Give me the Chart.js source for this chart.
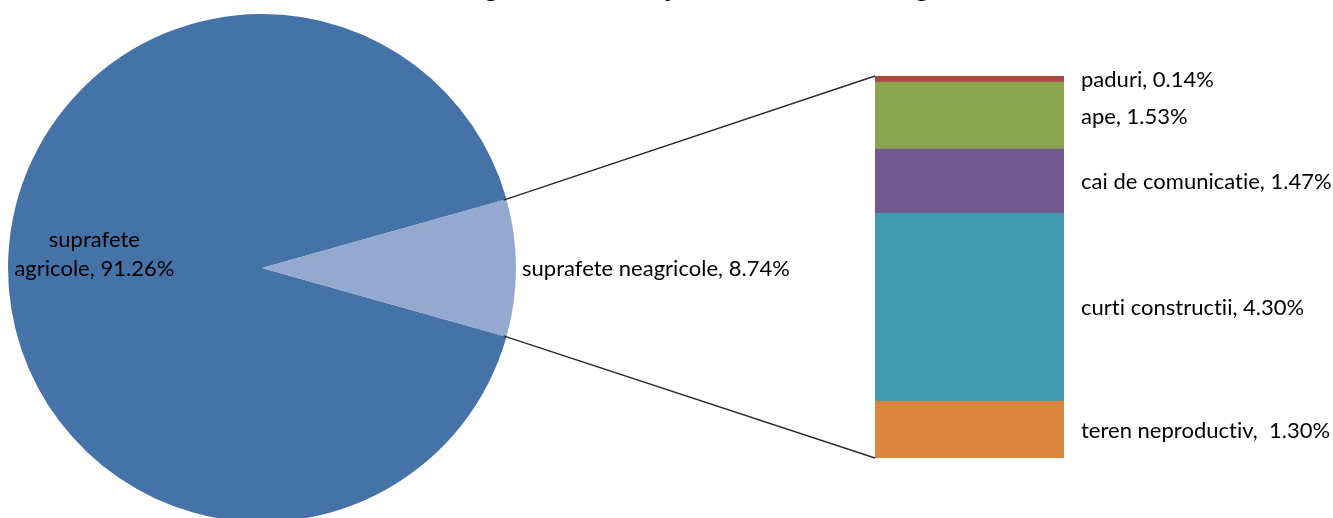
<!DOCTYPE html>
<html><head><meta charset="utf-8">
<script src="https://cdn.jsdelivr.net/npm/chart.js@4.4.0/dist/chart.umd.min.js"></script>
<style>
html,body{margin:0;padding:0;background:#fff;overflow:hidden}
#wrap{position:relative;width:1333px;height:518px;overflow:hidden;background:#fff}
canvas{position:absolute;left:0;top:0}
</style></head><body>
<div id="wrap"><canvas id="pie" width="1333" height="540"></canvas><canvas id="bar" width="1333" height="540"></canvas></div>
<script>
const titleText = 'Categorii de folosinţă a terenurilor din regiune';
const pieLabels = ['suprafete agricole', 'suprafete neagricole'];
const pieValues = [91.26, 8.74];
const pieColors = ['#4572A7', '#93A9CF'];
const barLabels = ['teren neproductiv, ', 'curti constructii,', 'cai de comunicatie,', 'ape,', 'paduri,'];
const barValues = [1.30, 4.30, 1.47, 1.53, 0.14];
const barColors = ['#DB843D', '#4198AF', '#71588F', '#89A54E', '#AA4643'];

const FONT = '22px Lato';
const pieTotal = pieValues.reduce((a, b) => a + b, 0);
const barTotal = barValues.reduce((a, b) => a + b, 0);
const rot = 90 + (pieValues[1] / pieTotal) * 360 / 2;

function noLig(ctx) {
  try { ctx.letterSpacing = '0.01px'; } catch (e) {}
  try { ctx.textRendering = 'optimizeSpeed'; } catch (e) {}
}

const pieLabelPlugin = {
  id: 'pieLabels',
  afterDatasetsDraw(chart) {
    const ctx = chart.ctx;
    const meta = chart.getDatasetMeta(0);
    ctx.save();
    noLig(ctx);
    ctx.fillStyle = '#000';
    ctx.font = 'bold 27px Lato';
    ctx.textAlign = 'center';
    ctx.textBaseline = 'alphabetic';
    ctx.fillText(titleText, 705, -3);
    ctx.font = FONT;
    const a = meta.data[0];
    const midA = (a.startAngle + a.endAngle) / 2;
    const lx = a.x + Math.cos(midA) * a.outerRadius * 0.66;
    const ly = a.y + Math.sin(midA) * a.outerRadius * 0.66 - 14;
    const pctA = (pieValues[0] / pieTotal * 100).toFixed(2);
    ctx.textBaseline = 'middle';
    ctx.fillText('suprafete', lx, ly - 14.5);
    ctx.fillText('agricole, ' + pctA + '%', lx, ly + 14.5);
    const b = meta.data[1];
    const midB = (b.startAngle + b.endAngle) / 2;
    const ox = b.x + Math.cos(midB) * (b.outerRadius + 6);
    const oy = b.y + Math.sin(midB) * (b.outerRadius + 6) + 1;
    const pctB = (pieValues[1] / pieTotal * 100).toFixed(2);
    ctx.textAlign = 'left';
    ctx.fillText(pieLabels[1] + ', ' + pctB + '%', ox, oy);
    ctx.restore();
  }
};

const pieChart = new Chart(document.getElementById('pie'), {
  type: 'pie',
  data: { labels: pieLabels, datasets: [{ data: pieValues, backgroundColor: pieColors, borderWidth: 0 }] },
  options: {
    responsive: false, animation: false, events: [], rotation: rot,
    layout: { padding: { left: 8, right: 817, top: 14, bottom: 18 } },
    plugins: { legend: { display: false }, tooltip: { enabled: false } }
  },
  plugins: [pieLabelPlugin]
});

const connectorPlugin = {
  id: 'connectors',
  afterDatasetsDraw(chart) {
    const ctx = chart.ctx;
    const arc = pieChart.getDatasetMeta(0).data[1];
    const n = barValues.length;
    const topBar = chart.getDatasetMeta(n - 1).data[0];
    const botBar = chart.getDatasetMeta(0).data[0];
    const left = topBar.x - topBar.width / 2;
    const right = topBar.x + topBar.width / 2;
    const p1 = [arc.x + Math.cos(arc.startAngle) * arc.outerRadius, arc.y + Math.sin(arc.startAngle) * arc.outerRadius];
    const p2 = [arc.x + Math.cos(arc.endAngle) * arc.outerRadius, arc.y + Math.sin(arc.endAngle) * arc.outerRadius];
    ctx.save();
    noLig(ctx);
    ctx.strokeStyle = '#2b2b2b';
    ctx.lineWidth = 1.5;
    ctx.beginPath();
    ctx.moveTo(p1[0] - 3, p1[1] + 1);
    ctx.lineTo(left, topBar.y);
    ctx.moveTo(p2[0] - 3, p2[1] - 1);
    ctx.lineTo(left, botBar.base);
    ctx.stroke();
    ctx.fillStyle = '#000';
    ctx.font = FONT;
    ctx.textAlign = 'left';
    ctx.textBaseline = 'middle';
    for (let i = 0; i < n; i++) {
      const el = chart.getDatasetMeta(i).data[0];
      const cy = (el.y + el.base) / 2 + 1;
      ctx.fillText(barLabels[i] + ' ' + barValues[i].toFixed(2) + '%', right + 17, cy);
    }
    ctx.restore();
  }
};

new Chart(document.getElementById('bar'), {
  type: 'bar',
  data: {
    labels: [''],
    datasets: barValues.map((v, i) => ({
      label: barLabels[i], data: [v], backgroundColor: barColors[i],
      borderWidth: 0, barPercentage: 1, categoryPercentage: 1
    }))
  },
  options: {
    responsive: false, animation: false, events: [],
    layout: { padding: { left: 875, right: 269, top: 76, bottom: 82 } },
    scales: {
      x: { display: false, stacked: true },
      y: { display: false, stacked: true, min: 0, max: barTotal }
    },
    plugins: { legend: { display: false }, tooltip: { enabled: false } }
  },
  plugins: [connectorPlugin]
});
</script>
</body></html>
